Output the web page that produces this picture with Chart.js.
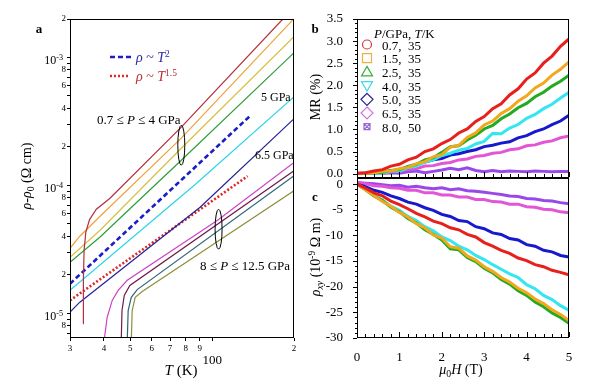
<!DOCTYPE html>
<html>
<head>
<meta charset="utf-8">
<script src="https://cdn.jsdelivr.net/npm/chart.js@4.4.1/dist/chart.umd.min.js"></script>
<style>
  body { margin: 0; width: 600px; height: 388px; position: relative; background: #fff; overflow: hidden; font-family: 'Liberation Serif', 'Times New Roman', serif; }
  canvas { position: absolute; }
  .t { position: absolute; white-space: nowrap; color: #000; line-height: 1; }
  .t sup { font-size: 68%; position: relative; top: -0.55em; vertical-align: baseline; }
  .t sub { font-size: 70%; position: relative; top: 0.3em; vertical-align: baseline; }
</style>
</head>
<body>
<canvas id="ca" width="300" height="388" style="left:0;top:0"></canvas>
<canvas id="cb" width="310" height="186" style="left:290px;top:0"></canvas>
<canvas id="cc" width="310" height="218" style="left:290px;top:170px"></canvas>
<script>
// ---- panel a : rho - rho0 vs T (log-log) ----
const aXTicks = [30, 40, 50, 60, 70, 80, 90, 100, 200];
const aXLabels = ['3', '4', '5', '6', '7', '8', '9', '', '2'];
const aYTicks = [7e-6, 8e-6, 9e-6, 1e-5, 2e-5, 3e-5, 4e-5, 5e-5, 6e-5, 7e-5, 8e-5, 9e-5,
                 1e-4, 2e-4, 3e-4, 4e-4, 5e-4, 6e-4, 7e-4, 8e-4, 9e-4, 1e-3, 2e-3];
const aYLabels = ['', '8', '', '', '2', '', '4', '', '6', '', '8', '', '', '2', '', '4', '', '6', '', '8', '', '', '2'];
const aYDecades = [1e-5, 1e-4, 1e-3];
const aYDecadeExp = ['-5', '-4', '-3'];

// 0.7 <= P <= 4 GPa
const tP07 = [33.5, 33.6, 33.8, 34.3, 35.4, 37.5, 42, 77, 182];
const rP07 = [8.3e-6, 1.8e-5, 3.1e-5, 4.3e-5, 5.4e-5, 6.5e-5, 7.9e-5, 2.85e-4, 2.0e-3];
const tP15 = [30, 32.6, 38.7, 77, 199.5];
const rP15 = [3.22e-5, 4.0e-5, 5.73e-5, 2.34e-4, 2.0e-3];
const tP25 = [30, 38.7, 77, 201];
const rP25 = [2.74e-5, 4.46e-5, 1.95e-4, 1.47e-3];
const tP40 = [30, 38.7, 77, 201];
const rP40 = [2.5e-5, 3.95e-5, 1.57e-4, 1.1e-3];
// 5 GPa, 6.5 GPa
const tP50 = [30, 86.8, 201];
const rP50 = [1.51e-5, 1.02e-4, 4.98e-4];
const tP65 = [30, 32.6, 90.3, 201];
const rP65 = [1.02e-5, 1.22e-5, 6.74e-5, 3.35e-4];
// 8 <= P <= 12.5 GPa
const tP80 = [40.0, 41.1, 42.9, 45.1, 48.7, 104.7, 201];
const rP80 = [6.0e-6, 9.3e-6, 1.26e-5, 1.51e-5, 1.81e-5, 5.33e-5, 1.52e-4];
const tP95 = [46.3, 46.6, 47.5, 49.8, 201];
const rP95 = [6.0e-6, 1.05e-5, 1.38e-5, 1.65e-5, 1.31e-4];
const tP110 = [48.7, 49.1, 50.4, 53.0, 201];
const rP110 = [6.0e-6, 1.05e-5, 1.33e-5, 1.53e-5, 1.2e-4];
const tP125 = [50.4, 50.8, 52.1, 55.3, 201];
const rP125 = [6.0e-6, 1.05e-5, 1.33e-5, 1.48e-5, 9.15e-5];
// guide lines
const tFit2 = [30, 138];
const rFit2 = [1.7e-5, 3.5e-4];
const tFit15 = [30, 135];
const rFit15 = [1.26e-5, 1.18e-4];
// ellipse markers (T, rho)
const ellT = [77, 105.6];
const ellR = [2.06e-4, 4.54e-5];

// ---- panels b, c : field sweeps ----
const bH = [0, 0.2, 0.4, 0.6, 0.8, 1.0, 1.2, 1.4, 1.6, 1.8, 2.0, 2.2, 2.4, 2.6, 2.8, 3.0, 3.2, 3.4, 3.6, 3.8, 4.0, 4.2, 4.4, 4.6, 4.8, 5.0];
const bP = ['0.7', '1.5', '2.5', '4.0', '5.0', '6.5', '8.0'];
const bTK = ['35', '35', '35', '35', '35', '35', '50'];
const bYTicks = [0, 0.5, 1.0, 1.5, 2.0, 2.5, 3.0, 3.5];
const bYLabels = ['0.0', '0.5', '1.0', '1.5', '2.0', '2.5', '3.0', '3.5'];
const cYTicks = [0, -5, -10, -15, -20, -25, -30];
const cYLabels = ['0', '-5', '-10', '-15', '-20', '-25', '-30'];
const cXTicks = [0, 1, 2, 3, 4, 5];
const cXLabels = ['0', '1', '2', '3', '4', '5'];

// MR (%)
const mr07 = [0.00, 0.02, 0.06, 0.09, 0.17, 0.21, 0.31, 0.37, 0.50, 0.56, 0.68, 0.77, 0.92, 1.01, 1.18, 1.29, 1.47, 1.58, 1.78, 1.92, 2.14, 2.28, 2.50, 2.66, 2.88, 3.05];
const mr15 = [0.00, 0.01, 0.02, 0.05, 0.06, 0.11, 0.14, 0.22, 0.27, 0.38, 0.43, 0.60, 0.64, 0.82, 0.92, 1.10, 1.19, 1.36, 1.47, 1.64, 1.76, 1.94, 2.05, 2.23, 2.36, 2.53];
const mr25 = [0.00, 0.00, 0.02, 0.03, 0.07, 0.09, 0.16, 0.21, 0.31, 0.36, 0.48, 0.61, 0.63, 0.76, 0.87, 1.01, 1.09, 1.24, 1.35, 1.49, 1.59, 1.74, 1.84, 1.98, 2.09, 2.23];
const mr40 = [0.00, 0.00, 0.01, 0.01, 0.05, 0.06, 0.13, 0.17, 0.26, 0.31, 0.41, 0.46, 0.53, 0.57, 0.67, 0.73, 0.91, 0.90, 1.03, 1.11, 1.25, 1.34, 1.47, 1.57, 1.71, 1.84];
const mr50 = [0.00, 0.01, 0.02, 0.06, 0.05, 0.10, 0.13, 0.21, 0.26, 0.31, 0.34, 0.42, 0.45, 0.50, 0.54, 0.61, 0.64, 0.69, 0.72, 0.81, 0.86, 0.95, 1.01, 1.11, 1.19, 1.32];
const mr65 = [0.00, 0.00, 0.02, 0.01, 0.05, 0.05, 0.10, 0.11, 0.17, 0.18, 0.23, 0.25, 0.31, 0.33, 0.39, 0.41, 0.46, 0.48, 0.54, 0.56, 0.63, 0.65, 0.71, 0.74, 0.81, 0.85];
const mr80 = [0.01, 0.00, 0.02, 0.00, 0.02, 0.01, 0.04, 0.06, 0.02, 0.05, 0.08, 0.12, 0.09, 0.13, 0.07, 0.04, 0.07, 0.04, 0.06, 0.05, 0.04, 0.06, 0.05, 0.04, 0.05, 0.05];

// rho_xy (1e-9 ohm m)
const rx07 = [0, -0.8, -1.7, -2.3, -3.3, -4.0, -4.8, -5.7, -6.4, -7.2, -7.7, -8.5, -8.9, -9.8, -10.3, -11.4, -12.1, -12.9, -13.5, -14.4, -14.9, -15.7, -16.1, -16.8, -17.2, -17.7];
const rx15 = [0, -1.1, -2.2, -3.4, -4.3, -5.5, -6.4, -7.7, -8.5, -9.9, -10.5, -12.2, -12.5, -14.0, -14.8, -16.1, -17.0, -18.2, -19.1, -20.3, -21.2, -22.4, -23.3, -24.5, -25.4, -26.6];
const rx25 = [0, -1.1, -2.3, -3.2, -4.5, -5.4, -6.7, -7.6, -8.9, -9.8, -10.9, -12.6, -12.8, -14.3, -15.1, -16.4, -17.3, -18.6, -19.5, -20.8, -21.7, -23.0, -23.9, -25.1, -26.0, -27.1];
const rx40 = [0, -1.0, -2.2, -3.1, -4.3, -5.1, -6.3, -7.1, -8.3, -9.1, -10.3, -11.0, -12.1, -12.8, -13.9, -14.7, -15.7, -16.6, -17.5, -18.2, -19.6, -20.4, -21.7, -22.5, -23.7, -24.6];
const rx50 = [0, -0.5, -1.2, -1.6, -2.3, -2.8, -3.5, -3.9, -4.6, -5.1, -5.9, -6.3, -7.1, -7.3, -8.3, -8.7, -9.5, -9.8, -10.6, -10.9, -11.8, -12.1, -12.9, -13.2, -13.9, -14.2];
const rx65 = [0.3, 0.1, -0.3, -0.4, -0.7, -0.8, -1.2, -1.2, -1.7, -1.7, -2.1, -2.1, -2.5, -2.5, -3.0, -3.0, -3.4, -3.5, -3.9, -3.9, -4.4, -4.5, -4.9, -5.0, -5.4, -5.6];
const rx80 = [0.3, 0.2, 0.1, -0.1, -0.3, -0.2, -0.6, -0.4, -0.7, -0.9, -0.7, -1.1, -0.9, -1.3, -1.4, -1.6, -1.8, -2.0, -2.3, -2.4, -2.8, -2.9, -3.2, -3.3, -3.6, -3.8];

const serif = "'Liberation Serif', 'Times New Roman', serif";
const xy = (xs, ys) => xs.map((x, i) => ({ x: x, y: ys[i] }));

// frame around the plot area
const framePlugin = {
  id: 'frame',
  afterDraw(chart) {
    const { ctx, chartArea: a } = chart;
    ctx.save();
    ctx.strokeStyle = '#000';
    ctx.lineWidth = 1;
    ctx.strokeRect(Math.round(a.left) + 0.5, Math.round(a.top) + 0.5, Math.round(a.right - a.left) - 1, Math.round(a.bottom - a.top) - 1);
    ctx.restore();
  }
};

// panel a extras: ellipses and the guide-line key
const aExtras = {
  id: 'aExtras',
  afterDraw(chart) {
    const { ctx, scales: { x, y } } = chart;
    ctx.save();
    ctx.strokeStyle = '#000';
    ctx.lineWidth = 1;
    for (let i = 0; i < ellT.length; i++) {
      ctx.beginPath();
      ctx.ellipse(x.getPixelForValue(ellT[i]), y.getPixelForValue(ellR[i]), 3.5, 20, 0, 0, Math.PI * 2);
      ctx.stroke();
    }
    ctx.lineWidth = 2.6;
    ctx.strokeStyle = '#1c1cc8';
    ctx.setLineDash([5, 3]);
    ctx.beginPath(); ctx.moveTo(110, 57); ctx.lineTo(131, 57); ctx.stroke();
    ctx.strokeStyle = '#e02828';
    ctx.setLineDash([2, 2]);
    ctx.beginPath(); ctx.moveTo(110, 76); ctx.lineTo(129, 76); ctx.stroke();
    ctx.restore();
  }
};

function lineSet(T, R, color, width, dash) {
  return { data: xy(T, R), borderColor: color, borderWidth: width || 1.2, borderDash: dash || [], pointRadius: 0, fill: false };
}

const chA = new Chart(document.getElementById('ca'), {
  type: 'line',
  data: {
    datasets: [
      lineSet(tP07, rP07, '#b3303c'),
      lineSet(tP15, rP15, '#eea23a'),
      lineSet(tP25, rP25, '#d4c044'),
      lineSet(tP40, rP40, '#2e9e3a'),
      lineSet(tP50, rP50, '#2ad4e6'),
      lineSet(tP65, rP65, '#22229a'),
      lineSet(tP80, rP80, '#cc44c4'),
      lineSet(tP95, rP95, '#6e1a4c'),
      lineSet(tP110, rP110, '#2f6478'),
      lineSet(tP125, rP125, '#8e8e3e'),
      lineSet(tFit2, rFit2, '#1c1cc8', 2.6, [5, 3]),
      lineSet(tFit15, rFit15, '#e02828', 2.6, [2, 2])
    ]
  },
  options: {
    responsive: false,
    animation: false,
    events: [],
    layout: { padding: { left: 0, top: 19, right: 6, bottom: 0 } },
    plugins: { legend: { display: false }, tooltip: { enabled: false } },
    scales: {
      x: {
        type: 'logarithmic', min: 30, max: 200,
        afterBuildTicks: s => { s.ticks = aXTicks.map(v => ({ value: v })); },
        afterFit: s => { s.height = 50; s.paddingLeft = 0; s.paddingRight = 0; },
        ticks: { autoSkip: false, maxRotation: 0, padding: 2, color: '#000', font: { family: serif, size: 9 }, callback: (v, i) => aXLabels[i] },
        grid: { drawOnChartArea: false, drawTicks: true, tickLength: 3, color: '#000' },
        border: { display: false }
      },
      y: {
        type: 'logarithmic', min: 6.4e-6, max: 2e-3,
        afterBuildTicks: s => { s.ticks = aYTicks.map(v => ({ value: v })); },
        afterFit: s => { s.width = 70; s.paddingTop = 0; s.paddingBottom = 0; },
        ticks: { autoSkip: false, padding: 1, color: '#000', font: { family: serif, size: 9 }, callback: (v, i) => aYLabels[i] },
        grid: { drawOnChartArea: false, drawTicks: true, tickLength: 3, color: '#000' },
        border: { display: false }
      }
    }
  },
  plugins: [framePlugin, aExtras]
});

// inward x ticks and outward minor/major y ticks for panels b and c
function bcTicks(yMin, yMax, yStep) {
  return {
    id: 'bcTicks',
    afterDraw(chart) {
      const { ctx, chartArea: a, scales: { x, y } } = chart;
      ctx.save();
      ctx.strokeStyle = '#000';
      ctx.lineWidth = 1;
      ctx.beginPath();
      for (let i = 0; i <= 25; i++) {
        const px = Math.round(x.getPixelForValue(i * 0.2)) + 0.5;
        const len = i % 5 === 0 ? 5 : 3;
        ctx.moveTo(px, a.bottom - 1);
        ctx.lineTo(px, a.bottom - 1 - len);
      }
      const n = Math.round((yMax - yMin) / yStep);
      for (let i = 0; i <= n; i++) {
        const py = Math.round(y.getPixelForValue(yMin + i * yStep)) + 0.5;
        const len = i % 5 === 0 ? 4 : 2;
        ctx.moveTo(a.left, py);
        ctx.lineTo(a.left - len, py);
      }
      ctx.stroke();
      ctx.restore();
    }
  };
}

// legend markers of panel b
const bMarkers = {
  id: 'bMarkers',
  afterDraw(chart) {
    const ctx = chart.ctx;
    const cols = ['#d8363a', '#efb040', '#38b038', '#44d8e8', '#22228c', '#d474d8', '#9466d4'];
    const cx = 77;
    ctx.save();
    ctx.lineWidth = 1.2;
    cols.forEach((c, i) => {
      const cy = 44.5 + i * 13.7;
      ctx.strokeStyle = c;
      ctx.beginPath();
      if (i === 0) ctx.arc(cx, cy, 4.5, 0, Math.PI * 2);
      else if (i === 1) ctx.rect(cx - 4.5, cy - 4.5, 9, 9);
      else if (i === 2) { ctx.moveTo(cx, cy - 5.5); ctx.lineTo(cx + 5.5, cy + 4); ctx.lineTo(cx - 5.5, cy + 4); ctx.closePath(); }
      else if (i === 3) { ctx.moveTo(cx, cy + 5.5); ctx.lineTo(cx + 5.5, cy - 4); ctx.lineTo(cx - 5.5, cy - 4); ctx.closePath(); }
      else if (i === 4 || i === 5) { ctx.moveTo(cx, cy - 6); ctx.lineTo(cx + 6, cy); ctx.lineTo(cx, cy + 6); ctx.lineTo(cx - 6, cy); ctx.closePath(); }
      else { ctx.rect(cx - 3, cy - 3, 6, 6); ctx.moveTo(cx - 3, cy - 3); ctx.lineTo(cx + 3, cy + 3); ctx.moveTo(cx + 3, cy - 3); ctx.lineTo(cx - 3, cy + 3); }
      ctx.stroke();
    });
    ctx.restore();
  }
};

const bcColors = ['#e8201c', '#f2a81d', '#22aa22', '#33e6f0', '#1818cc', '#e255d5', '#9848e8'];
const bSeries = [mr07, mr15, mr25, mr40, mr50, mr65, mr80];
const cSeries = [rx07, rx15, rx25, rx40, rx50, rx65, rx80];

function fieldSets(series) {
  return series.map((s, i) => ({ data: xy(bH, s), borderColor: bcColors[i], borderWidth: 3, pointRadius: 0, fill: false }));
}

const commonBC = {
  responsive: false,
  animation: false,
  events: [],
  plugins: { legend: { display: false }, tooltip: { enabled: false } }
};

new Chart(document.getElementById('cb'), {
  type: 'line',
  data: { datasets: fieldSets(bSeries) },
  options: Object.assign({}, commonBC, {
    layout: { padding: { left: 0, top: 19, right: 31, bottom: 0 } },
    scales: {
      x: {
        type: 'linear', min: 0, max: 5,
        ticks: { display: false },
        grid: { display: false },
        border: { display: false },
        afterFit: s => { s.height = 8; s.paddingLeft = 0; s.paddingRight = 0; }
      },
      y: {
        type: 'linear', min: -0.1, max: 3.5,
        afterBuildTicks: s => { s.ticks = bYTicks.map(v => ({ value: v })); },
        afterFit: s => { s.width = 67; s.paddingTop = 0; s.paddingBottom = 0; },
        ticks: { autoSkip: false, padding: 6, color: '#000', font: { family: serif, size: 13 }, callback: (v, i) => bYLabels[i] },
        grid: { display: false },
        border: { display: false }
      }
    }
  }),
  plugins: [framePlugin, bcTicks(0, 3.5, 0.1), bMarkers]
});

new Chart(document.getElementById('cc'), {
  type: 'line',
  data: { datasets: fieldSets(cSeries) },
  options: Object.assign({}, commonBC, {
    layout: { padding: { left: 0, top: 8, right: 31, bottom: 0 } },
    scales: {
      x: {
        type: 'linear', min: 0, max: 5,
        afterBuildTicks: s => { s.ticks = cXTicks.map(v => ({ value: v })); },
        afterFit: s => { s.height = 50; s.paddingLeft = 0; s.paddingRight = 0; },
        ticks: { autoSkip: false, maxRotation: 0, padding: 4, color: '#000', font: { family: serif, size: 13 }, callback: (v, i) => cXLabels[i] },
        grid: { display: false },
        border: { display: false }
      },
      y: {
        type: 'linear', min: -30, max: 1.2,
        afterBuildTicks: s => { s.ticks = cYTicks.map(v => ({ value: v })); },
        afterFit: s => { s.width = 67; s.paddingTop = 0; s.paddingBottom = 0; },
        ticks: { autoSkip: false, padding: 6, color: '#000', font: { family: serif, size: 13 }, callback: (v, i) => cYLabels[i] },
        grid: { display: false },
        border: { display: false }
      }
    }
  }),
  plugins: [framePlugin, bcTicks(-30, 0, 1)]
});

// ---- text (HTML) ----
function txt(html, x, y, opt) {
  opt = opt || {};
  const d = document.createElement('div');
  d.className = 't';
  d.innerHTML = html;
  d.style.left = x + 'px';
  d.style.top = y + 'px';
  d.style.fontSize = (opt.size || 13) + 'px';
  if (opt.color) d.style.color = opt.color;
  if (opt.bold) d.style.fontWeight = 'bold';
  const ax = opt.align === 'center' ? -50 : opt.align === 'right' ? -100 : 0;
  d.style.transform = 'translate(' + ax + '%,-50%)' + (opt.rot ? ' rotate(-90deg)' : '');
  document.body.appendChild(d);
}

const ax = chA.scales.x, ay = chA.scales.y;
aYDecades.forEach((v, i) => txt('10<sup>' + aYDecadeExp[i] + '</sup>', 63, ay.getPixelForValue(v) + 3, { align: 'right', size: 12 }));
txt('100', ax.getPixelForValue(100), 359, { align: 'center', size: 13 });

txt('a', 39, 28, { align: 'center', bold: true, size: 13 });
txt('b', 315, 28, { align: 'center', bold: true, size: 13 });
txt('c', 315, 196, { align: 'center', bold: true, size: 13 });

txt('<i>ρ</i>-<i>ρ</i><sub>0</sub> (Ω cm)', 27, 176, { align: 'center', rot: true, size: 14 });
txt('<i>T</i> (K)', 181, 370, { align: 'center', size: 15 });
txt('MR (%)', 316, 97, { align: 'center', rot: true, size: 14 });
txt('<i>ρ</i><sub><i>xy</i></sub> (10<sup>-9</sup> Ω m)', 316, 257, { align: 'center', rot: true, size: 14 });
txt('<i>μ</i><sub>0</sub><i>H</i> (T)', 461, 370, { align: 'center', size: 14 });

txt('<i>ρ</i> ~ <i>T</i><sup>2</sup>', 136, 58, { size: 14, color: '#2a2aa6' });
txt('<i>ρ</i> ~ <i>T</i><sup>1.5</sup>', 136, 77, { size: 14, color: '#b83030' });
txt('5 GPa', 261, 97, { size: 12 });
txt('6.5 GPa', 255, 155, { size: 12 });
txt('0.7 ≤ <i>P</i> ≤ 4 GPa', 97, 119, { size: 13 });
txt('8 ≤ <i>P</i> ≤ 12.5 GPa', 200, 265, { size: 13 });

txt('<i>P</i>/GPa, <i>T</i>/K', 374, 33, { size: 13 });
bP.forEach((p, i) => txt(p + ',&nbsp; ' + bTK[i], 382, 44.5 + i * 13.7, { size: 13 }));
</script>
</body>
</html>
